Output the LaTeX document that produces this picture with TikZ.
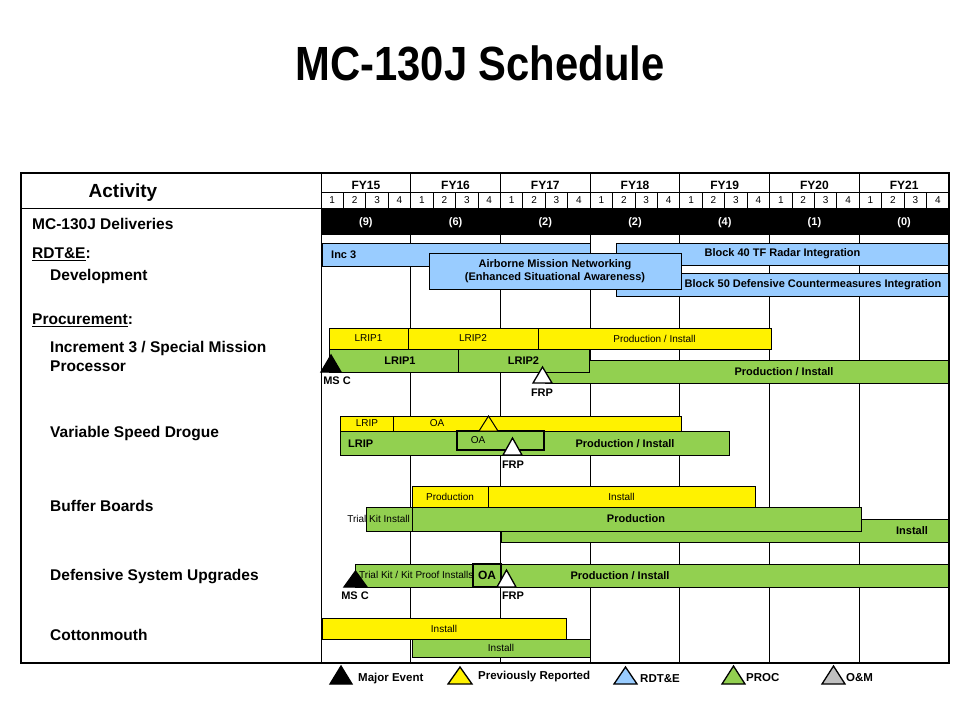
\documentclass[tikz,border=0pt]{standalone}
\usepackage{fontspec}
\setmainfont{Liberation Sans}
\usetikzlibrary{positioning}
\definecolor{procgreen}{HTML}{92D050}
\definecolor{rdtblue}{HTML}{99CCFF}
\definecolor{omgray}{HTML}{C0C0C0}

\begin{document}
\begin{tikzpicture}[
    x=1pt, y=-1pt,
    every node/.style={inner sep=0pt},
    rowlbl/.style={anchor=west, align=left, font=\fontsize{15.5}{19}\selectfont\bfseries},
    hdr/.style={font=\fontsize{12}{14}\selectfont\bfseries},
    qtr/.style={font=\fontsize{10}{12}\selectfont},
    grid/.style={line width=1pt},
    ybar/.style={draw, fill=yellow, line width=1pt},
    gbar/.style={draw, fill=procgreen, line width=1pt},
    bbar/.style={draw, fill=rdtblue, line width=0.9pt},
    oabox/.style={draw, fill=procgreen, line width=1.8pt},
    ytxt/.style={font=\fontsize{10}{12}\selectfont},
    gtxt/.style={font=\fontsize{11}{13}\selectfont\bfseries},
    btxt/.style={align=center, font=\fontsize{11}{13}\selectfont\bfseries},
    evt/.style={draw, line width=1.3pt, line join=miter},
    evtlbl/.style={font=\fontsize{11}{13}\selectfont\bfseries},
    leglbl/.style={anchor=west, font=\fontsize{11.5}{13}\selectfont\bfseries}
]
\useasboundingbox[fill=white] (0,0) rectangle (960,720);

% title
\node (title) at (480,63) {\scalebox{0.87}[1]{\fontsize{48}{48}\selectfont\bfseries MC-130J Schedule}};

% grid
\draw[grid] (321,173) -- (321,663);
\foreach \i in {1,...,6}
    \draw[grid] (321+\i*89.714,173) -- (321+\i*89.714,663);
\foreach \k in {1,...,27}
    \draw[line width=0.8pt] (321+\k*22.4286,192) -- ++(0,16);
\draw[grid] (321,192) -- (949,192);
\draw[grid] (21,208) -- (949,208);

% header
\node[font=\fontsize{19}{21}\selectfont\bfseries] (activity) at (123,192.5) {Activity};
\foreach \fy [count=\i from 0] in {15,...,21}
    \node[hdr] (fy\fy) at (321+\i*89.714+44.86,185) {FY\fy};
\foreach \i in {0,...,6}
    \foreach \q in {1,...,4}
        \node[qtr] (q\i-\q) at (321+\i*89.714+\q*22.4286-11.21,200.5) {\q};

% deliveries
\fill[black] (321,209) rectangle (949,235);
\foreach \n [count=\i from 0] in {9,6,2,2,4,1,0}
    \node[gtxt, text=white] (dlv\i) at (321+\i*89.714+44.86,223) {(\n)};

% row labels
\node[rowlbl] (deliv) at (32,223.5) {MC-130J Deliveries};
\node[rowlbl] (rdte) at (32,254.5) {\underline{RDT\&E}:};
\node[rowlbl] (devel) at (50,276) {Development};
\node[rowlbl] (proc) at (32,320) {\underline{Procurement}:};
\node[rowlbl] (inc3) at (50,356) {Increment 3 / Special Mission\\Processor};
\node[rowlbl] (vsd) at (50,434) {Variable Speed Drogue};
\node[rowlbl] (buffer) at (50,505.5) {Buffer Boards};
\node[rowlbl] (dsu) at (50,577) {Defensive System Upgrades};
\node[rowlbl] (cotton) at (50,635) {Cottonmouth};

% RDT&E
\draw[bbar] (322,243) rectangle (590,266);
\node[gtxt, anchor=west] (inc3bar) at (331,254.5) {Inc 3};
\draw[bbar] (616,243) rectangle (949,265) node[midway, btxt] (blk40) {Block 40 TF Radar Integration};
\draw[bbar] (616,273) rectangle (949,296);
\node[btxt] (blk50) at (813,284.5) {Block 50 Defensive Countermeasures Integration};
\draw[bbar] (429,253) rectangle (681,289) node[midway, btxt] (amn) {Airborne Mission Networking\\(Enhanced Situational Awareness)};

% Increment 3 / SMP
\draw[ybar] (329,328) rectangle (408,349) node[midway, ytxt] (ylrip1) {LRIP1};
\draw[ybar] (408,328) rectangle (538,349) node[midway, ytxt] (ylrip2) {LRIP2};
\draw[ybar] (538,328) rectangle (771,349) node[midway, ytxt] (yprod1) {Production / Install};
\draw[gbar] (545,360) rectangle (949,383);
\node[gtxt] (gprod1) at (784,371.5) {Production / Install};
\draw[gbar] (329,349) rectangle (458,372);
\node[gtxt] (glrip1) at (400,360.5) {LRIP1};
\draw[gbar] (458,349) rectangle (589,372) node[midway, gtxt] (glrip2) {LRIP2};
\draw[evt, fill=black] (321,372) -- (341,372) -- (331,355) -- cycle;
\node[evtlbl] (msc1) at (337,381) {MS C};
\draw[evt, fill=white] (533,383) -- (552,383) -- (542.5,367) -- cycle;
\node[evtlbl] (frp1) at (542,393) {FRP};

% Variable Speed Drogue
\draw[ybar] (340,416) rectangle (681,431);
\draw[line width=1pt] (393,416) -- (393,431);
\node[ytxt] (ylrip3) at (367,423.5) {LRIP};
\node[ytxt] (yoa3) at (437,423.5) {OA};
\draw[gbar] (340,431) rectangle (729,455);
\node[gtxt, anchor=west] (glrip3) at (348,443.5) {LRIP};
\node[gtxt] (gprod3) at (625,443.5) {Production / Install};
\draw[oabox] (457,431) rectangle (544,450);
\node[ytxt] (goa3) at (478,440) {OA};
\draw[evt, line width=1pt, fill=yellow] (479,431) -- (498,431) -- (488.5,416) -- cycle;
\draw[evt, fill=white] (503,455) -- (522,455) -- (512.5,438) -- cycle;
\node[evtlbl] (frp3) at (513,465) {FRP};

% Buffer Boards
\draw[ybar] (412,486) rectangle (488,507) node[midway, ytxt] (yprod4) {Production};
\draw[ybar] (488,486) rectangle (755,507) node[midway, ytxt] (yinst4) {Install};
\draw[gbar] (501,519) rectangle (949,542);
\node[gtxt] (ginst4) at (912,530.5) {Install};
\draw[gbar] (412,507) rectangle (861,531);
\node[gtxt] (gprod4) at (636,518.5) {Production};
\draw[gbar] (366,507) rectangle (412,531);
\node[ytxt, anchor=east] (trial4) at (410,518.5) {Trial Kit Install};

% Defensive System Upgrades
\draw[gbar] (355,564) rectangle (473,587);
\node[ytxt, anchor=west] (trial5) at (359,575) {Trial Kit / Kit Proof Installs};
\draw[oabox] (473,564) rectangle (501,587) node[midway, font=\fontsize{12}{14}\selectfont\bfseries] (oa5) {OA};
\draw[gbar] (501,564) rectangle (949,587);
\node[gtxt] (gprod5) at (620,575.5) {Production / Install};
\draw[evt, fill=black] (344,587) -- (367,587) -- (355.5,571) -- cycle;
\node[evtlbl] (msc5) at (355,595.5) {MS C};
\draw[evt, fill=white] (497,587) -- (516,587) -- (506.5,570) -- cycle;
\node[evtlbl] (frp5) at (513,595.5) {FRP};

% Cottonmouth
\draw[ybar] (322,618) rectangle (566,639) node[midway, ytxt] (yinst6) {Install};
\draw[gbar] (412,639) rectangle (590,657) node[midway, ytxt] (ginst6) {Install};

% frame
\draw[line width=2pt] (21,173) rectangle (949,663);

% legend
\draw[evt, fill=black] (330,684) -- (352,684) -- (341,666) -- cycle;
\node[leglbl] (lgmajor) at (358,679) {Major Event};
\draw[evt, fill=yellow] (448,684) -- (472,684) -- (460,667) -- cycle;
\node[leglbl] (lgprev) at (478,677) {Previously Reported};
\draw[evt, fill=rdtblue] (614,684) -- (637,684) -- (625.5,667) -- cycle;
\node[leglbl] (lgrdte) at (640,679) {RDT\&E};
\draw[evt, fill=procgreen] (722,684) -- (745,684) -- (733.5,666) -- cycle;
\node[leglbl] (lgproc) at (746,678) {PROC};
\draw[evt, fill=omgray] (822,684) -- (845,684) -- (833.5,666) -- cycle;
\node[leglbl] (lgom) at (846,678) {O\&M};
\end{tikzpicture}
\end{document}
